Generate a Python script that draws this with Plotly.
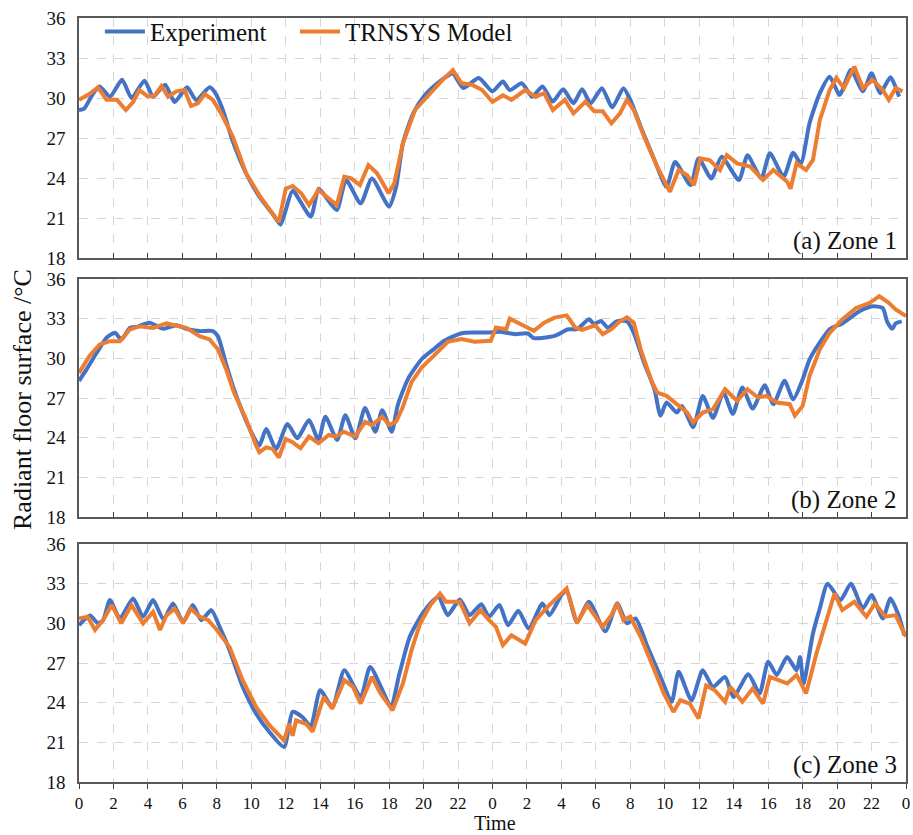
import plotly.graph_objects as go

# ---------------- data (hours from start, two days) ----------------
tick_vals = list(range(0, 49, 2))
tick_text = [str(v % 24) for v in tick_vals]

z1_exp_t = [0, 0.3, 0.8, 1.2, 1.8, 2.5, 3.05, 3.8, 4.3, 5.0, 5.55, 6.27, 6.8, 7.58, 7.9, 8.35, 8.9, 9.7, 10.47, 11.24, 11.7, 12.0, 12.4, 13.45, 13.9, 14.2, 14.96, 15.5, 16.35, 17.0, 18.0, 18.4, 18.8, 19.4, 20.0, 20.8, 21.5, 21.7, 22.3, 23.2, 24.0, 24.6, 25.0, 25.7, 26.3, 26.9, 27.5, 28.1, 28.7, 29.2, 29.7, 30.35, 30.95, 31.6, 32.0, 32.6, 33.4, 34.1, 34.6, 35.5, 35.96, 36.7, 37.3, 38.3, 38.8, 39.6, 40.1, 40.9, 41.45, 41.9, 42.4, 43.0, 43.57, 44.15, 44.8, 45.5, 46.0, 46.5, 47.1, 47.6]
z1_exp_v = [29.1, 29.2, 30.3, 30.86, 30.1, 31.36, 30.0, 31.3, 30.1, 31.0, 29.7, 30.8, 29.85, 30.8, 30.4, 29.1, 26.85, 24.35, 22.6, 21.3, 20.5, 21.6, 23.05, 21.1, 23.2, 22.8, 21.6, 23.85, 22.1, 23.97, 21.85, 23.3, 26.6, 28.85, 30.1, 31.1, 31.74, 31.86, 30.75, 31.5, 30.5, 31.24, 30.6, 31.1, 30.1, 30.86, 29.73, 30.66, 29.6, 30.66, 29.6, 30.74, 29.3, 30.74, 29.86, 27.85, 25.35, 23.34, 25.2, 23.47, 25.47, 23.97, 25.6, 23.85, 25.7, 23.97, 25.85, 24.1, 25.9, 25.1, 28.1, 30.36, 31.6, 30.24, 32.1, 30.5, 31.86, 30.36, 31.55, 30.1]

z1_mod_t = [0, 0.2, 0.6, 1.1, 1.6, 2.2, 2.72, 3.14, 3.5, 4.0, 4.4, 4.78, 5.17, 5.65, 6.13, 6.5, 6.9, 7.3, 7.77, 8.25, 8.93, 9.7, 10.47, 11.44, 11.6, 12.0, 12.4, 12.9, 13.35, 13.9, 14.4, 14.96, 15.4, 15.8, 16.3, 16.8, 17.3, 17.97, 18.3, 18.8, 19.5, 20.27, 21.1, 21.7, 22.2, 22.8, 23.4, 24.0, 24.6, 25.1, 25.9, 26.5, 27.0, 27.5, 28.2, 28.7, 29.4, 29.9, 30.4, 30.9, 31.4, 31.8, 32.2, 32.8, 33.56, 34.3, 34.8, 35.3, 35.7, 36.06, 36.6, 37.2, 37.6, 38.2, 38.96, 39.7, 40.3, 41.1, 41.3, 41.65, 42.2, 42.6, 43.0, 43.57, 43.96, 44.4, 45.0, 45.5, 46.07, 46.65, 47.0, 47.4, 47.8]
z1_mod_v = [29.86, 30.0, 30.3, 30.8, 29.86, 29.86, 29.1, 29.7, 30.6, 30.1, 30.2, 30.9, 30.1, 30.5, 30.6, 29.4, 29.6, 30.3, 29.86, 28.85, 27.1, 24.35, 22.7, 20.96, 20.7, 23.2, 23.4, 22.85, 21.97, 23.1, 22.6, 21.97, 24.1, 23.97, 23.47, 24.97, 24.35, 22.85, 23.6, 26.6, 29.1, 30.2, 31.36, 32.1, 31.1, 31.0, 30.6, 29.7, 30.2, 29.86, 30.6, 30.1, 30.36, 29.1, 29.86, 28.85, 29.73, 29.0, 29.0, 28.1, 28.85, 29.86, 29.1, 27.1, 24.85, 22.97, 24.6, 24.2, 23.47, 25.47, 25.35, 24.6, 25.72, 25.1, 24.85, 23.85, 24.6, 23.72, 23.2, 25.1, 24.6, 25.35, 28.35, 30.6, 31.5, 30.74, 32.36, 30.74, 31.36, 30.6, 29.86, 30.74, 30.5]

z2_exp_t = [0, 0.44, 1.02, 1.6, 2.08, 2.47, 2.95, 3.4, 4.1, 4.9, 5.65, 6.23, 7.0, 7.77, 8.06, 8.54, 8.93, 9.5, 10.1, 10.47, 10.86, 11.44, 12.1, 12.67, 13.35, 13.9, 14.3, 14.98, 15.46, 16.04, 16.6, 17.2, 17.6, 18.15, 18.5, 19.1, 19.9, 20.6, 21.2, 22.2, 22.96, 23.7, 24.5, 25.3, 26.05, 26.4, 27.6, 28.4, 28.9, 29.6, 29.9, 30.3, 30.7, 31.2, 31.8, 32.2, 32.8, 33.4, 33.75, 34.1, 34.7, 35.0, 35.65, 36.2, 36.8, 37.4, 37.95, 38.5, 39.1, 39.8, 40.3, 40.95, 41.45, 42.0, 42.4, 43.0, 43.57, 44.3, 45.3, 46.07, 46.65, 46.9, 47.2, 47.4, 47.75]
z2_exp_v = [28.3, 29.17, 30.4, 31.56, 31.93, 31.43, 32.3, 32.4, 32.7, 32.23, 32.5, 32.23, 32.06, 32.06, 31.68, 29.55, 27.9, 25.9, 24.15, 23.4, 24.65, 23.15, 25.03, 23.95, 25.33, 23.83, 25.58, 23.83, 25.7, 23.95, 26.25, 24.45, 26.08, 24.45, 26.45, 28.45, 29.95, 30.7, 31.33, 31.9, 31.95, 31.95, 32.0, 31.83, 31.88, 31.53, 31.7, 32.2, 32.2, 32.95, 32.6, 32.83, 32.3, 32.8, 32.8, 31.93, 29.67, 27.66, 25.66, 26.66, 25.9, 26.4, 24.8, 27.16, 25.5, 27.4, 25.8, 27.8, 26.2, 27.96, 26.53, 28.3, 26.9, 28.4, 29.9, 31.2, 32.2, 32.64, 33.56, 33.94, 33.8, 32.8, 32.23, 32.64, 32.8]

z2_mod_t = [0, 0.6, 1.2, 1.8, 2.37, 2.95, 3.5, 4.3, 5.07, 5.65, 6.23, 7.0, 7.58, 8.06, 8.54, 9.0, 9.7, 10.28, 10.47, 10.86, 11.24, 11.6, 12.0, 12.4, 12.86, 13.35, 13.9, 14.5, 14.9, 15.36, 16.04, 16.6, 17.0, 17.6, 18.0, 18.4, 18.76, 19.3, 19.9, 20.6, 21.4, 22.2, 22.96, 23.9, 24.2, 24.8, 25.0, 25.65, 26.4, 27.0, 27.6, 28.3, 28.8, 29.2, 29.95, 30.4, 30.9, 31.4, 31.8, 32.2, 32.6, 33.2, 33.56, 34.1, 34.7, 35.3, 35.65, 36.2, 36.8, 37.5, 38.2, 38.8, 39.4, 39.9, 40.5, 41.25, 41.55, 42.0, 42.4, 43.0, 43.57, 44.3, 45.1, 45.9, 46.45, 47.0, 47.4, 48.0]
z2_mod_v = [28.9, 30.17, 31.05, 31.3, 31.3, 32.18, 32.43, 32.3, 32.64, 32.5, 32.3, 31.68, 31.43, 30.68, 29.17, 27.4, 25.4, 23.4, 22.9, 23.27, 23.15, 22.5, 23.9, 23.65, 23.2, 24.08, 23.58, 24.2, 24.08, 24.45, 24.08, 25.2, 24.95, 25.58, 24.95, 25.2, 26.2, 28.2, 29.33, 30.2, 31.25, 31.45, 31.25, 31.33, 32.33, 32.2, 33.0, 32.58, 32.08, 32.7, 33.08, 33.25, 32.33, 32.15, 32.5, 31.83, 32.2, 32.8, 33.1, 32.7, 30.68, 28.4, 27.4, 27.16, 26.53, 25.9, 25.15, 25.9, 26.16, 27.66, 26.78, 27.66, 27.04, 27.16, 26.66, 26.53, 25.66, 26.4, 28.67, 30.68, 31.93, 32.94, 33.8, 34.2, 34.7, 34.2, 33.7, 33.2]

z3_exp_t = [0, 0.64, 1.1, 1.4, 1.8, 2.37, 3.14, 3.72, 4.3, 4.9, 5.46, 6.04, 6.6, 7.1, 7.68, 8.16, 8.74, 9.5, 10.28, 11.05, 11.9, 12.4, 12.98, 13.45, 14.0, 14.7, 15.4, 16.35, 16.9, 18.1, 18.6, 19.2, 20.0, 20.85, 21.4, 22.1, 22.67, 23.35, 23.8, 24.4, 24.9, 25.5, 26.1, 26.9, 27.3, 28.0, 28.3, 28.9, 29.6, 30.55, 31.24, 31.8, 32.3, 33.0, 33.75, 34.4, 34.8, 35.55, 36.2, 36.8, 37.5, 37.98, 38.85, 39.5, 40.0, 40.5, 41.1, 41.65, 41.85, 42.05, 42.6, 43.0, 43.45, 44.2, 44.8, 45.5, 46.0, 46.65, 47.1, 47.6, 47.9]
z3_exp_v = [29.86, 30.6, 30.0, 30.24, 31.76, 30.37, 31.88, 30.5, 31.76, 30.3, 31.5, 30.1, 31.38, 30.24, 31.0, 29.74, 27.97, 25.2, 23.17, 21.78, 20.65, 23.3, 22.9, 22.2, 24.94, 23.68, 26.45, 24.43, 26.7, 23.8, 26.2, 28.98, 30.87, 32.0, 30.62, 31.8, 30.62, 31.45, 30.5, 31.38, 29.86, 30.95, 29.6, 31.5, 30.62, 32.14, 32.5, 30.1, 31.63, 29.4, 31.5, 30.0, 30.37, 28.22, 25.95, 24.06, 26.33, 24.18, 26.45, 25.2, 25.95, 24.43, 26.15, 24.7, 27.1, 26.1, 27.46, 26.45, 27.46, 25.45, 29.23, 31.13, 33.0, 31.76, 33.0, 31.13, 32.14, 30.37, 31.88, 30.5, 29.1]

z3_mod_t = [0, 0.5, 0.93, 1.4, 1.9, 2.45, 3.05, 3.72, 4.3, 4.7, 5.07, 5.55, 6.04, 6.5, 7.0, 7.5, 8.0, 8.74, 9.5, 10.28, 11.05, 11.9, 12.2, 12.4, 12.6, 13.17, 13.56, 13.85, 14.2, 14.7, 15.4, 15.9, 16.35, 17.0, 17.5, 18.2, 18.8, 19.3, 19.8, 20.4, 20.95, 21.3, 22.1, 22.67, 23.3, 23.8, 24.2, 24.6, 25.1, 25.9, 26.5, 27.2, 27.8, 28.3, 28.9, 29.5, 30.4, 30.9, 31.24, 31.6, 32.0, 32.6, 33.4, 33.94, 34.5, 34.9, 35.45, 35.96, 36.4, 36.9, 37.5, 37.8, 38.5, 39.1, 39.7, 40.1, 40.6, 41.1, 41.65, 42.2, 42.8, 43.4, 43.85, 44.3, 45.0, 45.7, 46.2, 46.8, 47.4, 47.9, 48.0]
z3_mod_v = [30.37, 30.5, 29.5, 30.24, 31.38, 30.0, 31.38, 30.0, 30.87, 29.5, 30.6, 31.1, 30.0, 31.1, 30.5, 30.24, 29.5, 28.2, 25.7, 23.68, 22.3, 21.15, 22.4, 21.5, 22.66, 22.4, 21.8, 23.0, 24.43, 23.55, 25.7, 25.2, 23.93, 25.95, 24.7, 23.42, 25.45, 27.97, 29.99, 31.38, 32.26, 31.63, 31.63, 30.0, 31.0, 30.24, 29.74, 28.35, 29.1, 28.47, 30.24, 31.25, 32.0, 32.64, 30.0, 31.38, 29.74, 30.62, 31.5, 30.24, 30.5, 28.98, 26.45, 24.7, 23.3, 24.18, 23.93, 22.8, 25.3, 24.94, 24.06, 25.2, 24.06, 25.07, 23.93, 25.95, 25.7, 25.45, 26.1, 24.7, 27.7, 30.24, 32.26, 31.0, 31.63, 30.5, 31.5, 30.5, 30.62, 29.23, 29.0]

zone_labels = ["(a) Zone 1", "(b) Zone 2", "(c) Zone 3"]
series_names = ["Experiment", "TRNSYS Model"]

# ---------------- styling ----------------
BLUE = "#4472C4"
ORANGE = "#ED7D31"
FONT = "Liberation Serif"
W, H = 913, 835
ML, MR, MT, MB = 79, 3, 18, 53
plot_w = W - ML - MR
plot_h = H - MT - MB
panels_px = [(18, 258), (279, 517), (544, 782)]


def dom(top, bot):
    return [(H - MB - bot) / plot_h, (H - MB - top) / plot_h]


fig = go.Figure()
data = [(z1_exp_t, z1_exp_v, z1_mod_t, z1_mod_v),
        (z2_exp_t, z2_exp_v, z2_mod_t, z2_mod_v),
        (z3_exp_t, z3_exp_v, z3_mod_t, z3_mod_v)]

for i, (et, ev, mt, mv) in enumerate(data):
    sx = "" if i == 0 else str(i + 1)
    fig.add_trace(go.Scatter(x=et, y=ev, mode="lines", name=series_names[0],
                             line=dict(color=BLUE, width=4, shape="spline", smoothing=0.6),
                             showlegend=(i == 0), legend="legend",
                             xaxis="x" + sx, yaxis="y" + sx))
    fig.add_trace(go.Scatter(x=mt, y=mv, mode="lines", name=series_names[1],
                             line=dict(color=ORANGE, width=4),
                             showlegend=(i == 0), legend="legend2",
                             xaxis="x" + sx, yaxis="y" + sx))

axis_common = dict(showline=True, linecolor="#595959", linewidth=1.5, mirror=True,
                   showgrid=True, gridcolor="#d6d6d6", griddash="dash", gridwidth=1,
                   zeroline=False, ticklen=5, tickcolor="#404040")

layout = dict(width=W, height=H, margin=dict(l=ML, r=MR, t=MT, b=MB),
              paper_bgcolor="white", plot_bgcolor="white",
              font=dict(family=FONT, color="#111"))

for i, (top, bot) in enumerate(panels_px):
    sx = "" if i == 0 else str(i + 1)
    last = (i == 2)
    layout["xaxis" + sx] = dict(axis_common, range=[0, 48], tickvals=tick_vals, ticktext=tick_text,
                                showticklabels=last, ticks="outside" if last else "inside",
                                tickfont=dict(family=FONT, size=17, color="#111"),
                                anchor="y" + sx, domain=[0, 1])
    layout["yaxis" + sx] = dict(axis_common, range=[18, 36], tickvals=[18, 21, 24, 27, 30, 33, 36],
                                ticks="", ticklabelstandoff=8,
                                tickfont=dict(family=FONT, size=19, color="#111"),
                                anchor="x" + sx, domain=dom(top, bot))

fig.update_layout(**layout)

annotations = []
for i, lab in enumerate(zone_labels):
    sx = "" if i == 0 else str(i + 1)
    annotations.append(dict(text=lab, xref="x" + sx + " domain", yref="y" + sx + " domain",
                            x=0.992, y=0.005, xanchor="right", yanchor="bottom", showarrow=False,
                            font=dict(family=FONT, size=25, color="#111")))
annotations.append(dict(text="Radiant floor surface /°C", xref="paper", yref="paper",
                        x=0, y=0.5, xshift=-57, textangle=-90, showarrow=False,
                        xanchor="center", yanchor="middle",
                        font=dict(family=FONT, size=26, color="#111")))
annotations.append(dict(text="Time", xref="paper", yref="paper", x=(497 - ML) / plot_w,
                        y=0, yshift=-41, xanchor="center", yanchor="middle", showarrow=False,
                        font=dict(family=FONT, size=20, color="#111")))
fig.update_layout(annotations=annotations)

leg_common = dict(orientation="h", y=1.012, xanchor="left", yanchor="top",
                  font=dict(family=FONT, size=25, color="#111"),
                  bgcolor="rgba(0,0,0,0)", itemwidth=40)
fig.update_layout(legend=dict(leg_common, x=(100 - ML) / plot_w),
                  legend2=dict(leg_common, x=(296 - ML) / plot_w))

fig.write_html("out.html")
